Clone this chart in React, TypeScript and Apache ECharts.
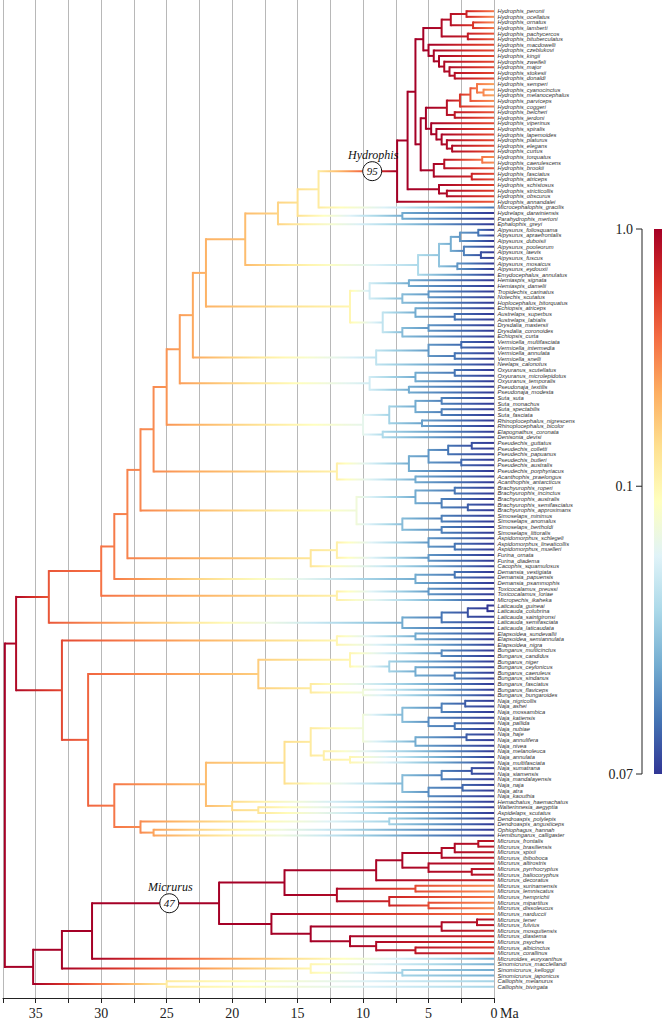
import React, { useEffect, useRef } from "react";
import * as echarts from "echarts";

// ---------- DATA ----------
// Newick-like clades: tips "Name:rate", internal nodes ")age:rate#Tag" (age in Ma)
const hydrophisA =
  "((((Hydrophis_peronii:0.35,Hydrophis_ocellatus:0.3)2.1:0.7,(Hydrophis_ornatus:0.3,Hydrophis_lamberti:0.35)1.6:0.6)3.3:0.85,(Hydrophis_pachycercos:0.45,Hydrophis_bituberculatus:0.45)2.0:0.75)4.0:0.9,(Hydrophis_macdowelli:0.5,(Hydrophis_czeblukovi:0.5,(Hydrophis_kingii:0.5,(Hydrophis_zweifeli:0.5,(Hydrophis_major:0.5,(Hydrophis_stokesii:0.5,Hydrophis_donaldi:0.5)3.0:0.85)3.4:0.9)3.8:0.9)4.2:0.95)4.6:0.95)5.0:1.0)5.4:1.0";
const hydrophisB =
  "(((((Hydrophis_semperi:0.25,(Hydrophis_cyanocinctus:0.25,Hydrophis_melanocephalus:0.25)0.8:0.3)1.3:0.35,Hydrophis_parviceps:0.3)1.8:0.45,Hydrophis_coggeri:0.35)2.6:0.6,(Hydrophis_belcheri:0.45,Hydrophis_jerdoni:0.45)3.0:0.8)3.6:0.85,(Hydrophis_viperinus:0.5,(Hydrophis_spiralis:0.5,(Hydrophis_lapemoides:0.5,(Hydrophis_platurus:0.5,(Hydrophis_elegans:0.5,Hydrophis_curtus:0.5)3.2:0.9)3.6:0.9)4.0:0.95)4.4:0.95)4.8:1.0)5.2:1.0";
const hydrophisC1 =
  "(((Hydrophis_torquatus:0.3,Hydrophis_caerulescens:0.3)0.9:0.35,Hydrophis_brookii:0.45)3.8:0.85,(Hydrophis_fasciatus:0.5,Hydrophis_atriceps:0.5)1.7:0.7)4.6:0.95";
const hydrophisC2 =
  "(Hydrophis_schistosus:0.55,(Hydrophis_stricticollis:0.55,Hydrophis_obscurus:0.55)3.6:0.9)4.2:0.95";
const hydrophis = `(((${hydrophisA},(${hydrophisB},${hydrophisC1})5.6:1.0)6.0:1.0,${hydrophisC2})6.6:1.0,Hydrophis_annandalei:0.45)7.4:1.0#Hydrophis`;
const seaHydrophiini = `(((${hydrophis},Microcephalophis_gracilis:0.075)13.4:0.12,(Hydrelaps_darwiniensis:0.07,Parahydrophis_mertoni:0.07)7.0:0.08)15.0:0.14,Ephalophis_greyi:0.07)16.5:0.16`;
const aipysurini =
  "(((((Aipysurus_foliosquama:0.07,Aipysurus_apraefrontalis:0.07)1.2:0.075,Aipysurus_duboisii:0.07)2.6:0.078,(Aipysurus_pooleorum:0.07,(Aipysurus_laevis:0.07,Aipysurus_fuscus:0.07)1.0:0.072)2.3:0.076)3.3:0.08,(Aipysurus_mosaicus:0.07,Aipysurus_eydouxii:0.07)2.8:0.078)4.2:0.083,Emydocephalus_annulatus:0.07)5.8:0.086";
const notechisGroup =
  "(((Hemiaspis_signata:0.07,Hemiaspis_damelii:0.07)6.5:0.08,((Tropidechis_carinatus:0.07,Notechis_scutatus:0.07)5.0:0.078,Hoplocephalus_bitorquatus:0.07)7.0:0.082)9.5:0.09,((Echiopsis_atriceps:0.07,(Austrelaps_superbus:0.07,Austrelaps_labialis:0.07)3.0:0.075)6.0:0.08,((Drysdalia_mastersii:0.07,Drysdalia_coronoides:0.07)5.0:0.078,Echiopsis_curta:0.07)7.0:0.082)8.5:0.088)11.0:0.1";
const vermicellaGroup =
  "(((Vermicella_multifasciata:0.07,Vermicella_intermedia:0.07)2.5:0.074,(Vermicella_annulata:0.07,Vermicella_snelli:0.07)3.0:0.075)5.0:0.078,Neelaps_calonotus:0.07)9.0:0.088";
const oxyuranusGroup =
  "(((Oxyuranus_scutellatus:0.07,Oxyuranus_microlepidotus:0.07)3.0:0.075,Oxyuranus_temporalis:0.07)6.0:0.08,(Pseudonaja_textilis:0.07,Pseudonaja_modesta:0.07)6.5:0.08)9.5:0.09";
const sutaGroup =
  "((((Suta_suta:0.07,Suta_monachus:0.07)4.0:0.076,(Suta_spectabilis:0.07,Suta_fasciata:0.07)4.0:0.076)6.0:0.08,(Rhinoplocephalus_nigrescens:0.07,Rhinoplocephalus_bicolor:0.07)5.5:0.079)8.0:0.085,(Elapognathus_coronata:0.07,Denisonia_devisi:0.07)8.5:0.086)10.0:0.093";
const pseudechisGroup =
  "(((((Pseudechis_guttatus:0.07,Pseudechis_colletti:0.07)1.7:0.072,Pseudechis_papuanus:0.07)3.5:0.075,(Pseudechis_butleri:0.07,Pseudechis_australis:0.07)2.5:0.074)5.0:0.078,Pseudechis_porphyriacus:0.07)6.5:0.08,(Acanthophis_praelongus:0.07,Acanthophis_antarcticus:0.07)6.0:0.08)12.0:0.11";
const brachyGroup =
  "(((Brachyurophis_roperi:0.07,Brachyurophis_incinctus:0.07)3.0:0.075,(Brachyurophis_australis:0.07,(Brachyurophis_semifasciatus:0.07,Brachyurophis_approximans:0.07)2.0:0.073)4.0:0.076)6.0:0.08,((Simoselaps_minimus:0.07,Simoselaps_anomalus:0.07)4.0:0.076,(Simoselaps_bertholdi:0.07,Simoselaps_littoralis:0.07)4.0:0.076)7.0:0.082)10.5:0.095";
const aspidoGroup =
  "(((Aspidomorphus_schlegeli:0.07,(Aspidomorphus_lineaticollis:0.07,Aspidomorphus_muelleri:0.07)3.0:0.075)5.0:0.078,(Furina_ornata:0.07,Furina_diadema:0.07)5.0:0.078)12.0:0.11,Cacophis_squamulosus:0.07)14.0:0.13";
const demansiaGroup =
  "((Demansia_vestigiata:0.07,Demansia_papuensis:0.07)3.0:0.075,Demansia_psammophis:0.07)6.0:0.08";
const toxicoGroup =
  "((Toxicocalamus_preussi:0.07,Toxicocalamus_loriae:0.07)5.0:0.078,Micropechis_ikaheka:0.07)12.0:0.11";
const laticauda =
  "((((Laticauda_guineai:0.07,Laticauda_colubrina:0.07)0.5:0.07,Laticauda_saintgironsi:0.07)2.0:0.072,Laticauda_semifasciata:0.07)4.0:0.075,Laticauda_laticaudata:0.07)7.0:0.08";

const marine = `(${seaHydrophiini},${aipysurini})19.0:0.2`;
const hydrophiinae =
  `((((((((((${marine},${notechisGroup})22.0:0.22,${vermicellaGroup})23.0:0.24,${oxyuranusGroup})24.0:0.26,${sutaGroup})25.0:0.28,${pseudechisGroup})26.0:0.3,${brachyGroup})27.0:0.31,${aspidoGroup})28.0:0.32,${demansiaGroup})29.0:0.34,${toxicoGroup})30.0:0.36,${laticauda})34.0:0.45`;

const elapsoidea = "((Elapsoidea_sundevallii:0.07,Elapsoidea_semiannulata:0.07)6.0:0.08,Elapsoidea_nigra:0.07)12.0:0.1";
const bungarus =
  "(((Bungarus_multicinctus:0.07,Bungarus_candidus:0.07)4.0:0.077,(Bungarus_niger:0.07,(Bungarus_ceylonicus:0.07,(Bungarus_caeruleus:0.07,Bungarus_sindanus:0.07)3.0:0.076)6.0:0.08)8.0:0.085)11.0:0.1,(Bungarus_fasciatus:0.07,(Bungarus_flaviceps:0.07,Bungarus_bungaroides:0.07)10.0:0.095)14.0:0.12)18.0:0.17";
const najaSpitters =
  "(((Naja_nigricollis:0.07,Naja_ashei:0.07)2.2:0.073,Naja_mossambica:0.07)4.0:0.076,(Naja_katiensis:0.07,(Naja_pallida:0.07,Naja_nubiae:0.07)3.0:0.075)5.0:0.077)7.0:0.082";
const najaHaje = "((Naja_haje:0.07,Naja_annulifera:0.07)2.1:0.073,Naja_nivea:0.07)6.0:0.08";
const najaForest = "(Naja_melanoleuca:0.07,(Naja_annulata:0.07,Naja_multifasciata:0.07)11.0:0.1)13.0:0.11";
const najaAsian =
  "(((Naja_sumatrana:0.07,Naja_siamensis:0.07)1.7:0.072,Naja_mandalayensis:0.07)4.0:0.076,((Naja_naja:0.07,Naja_atra:0.07)2.4:0.074,Naja_kaouthia:0.07)5.0:0.077)7.0:0.082";
const naja = `(((${najaSpitters},${najaHaje})10.0:0.095,${najaForest})14.0:0.12,${najaAsian})16.0:0.14`;
const najaGroup = `(${naja},(Hemachatus_haemachatus:0.07,(Walterinnesia_aegyptia:0.07,Aspidelaps_scutatus:0.07)18.0:0.13)20.0:0.15)22.0:0.2`;
const dendroGroup =
  "((Dendroaspis_polylepis:0.07,Dendroaspis_angusticeps:0.07)8.0:0.085,(Ophiophagus_hannah:0.07,Hemibungarus_calligaster:0.07)26.0:0.25)27.0:0.3";
const elapinae = `(${elapsoidea},(${bungarus},(${najaGroup},${dendroGroup})29.0:0.35)31.0:0.4)33.0:0.5`;

const micrurusA =
  "((((((Micrurus_frontalis:0.8,Micrurus_brasiliensis:0.8)1.2:0.85,Micrurus_spixii:0.8)3.0:0.9,Micrurus_ibiboboca:0.8)4.0:0.9,(Micrurus_altirostris:0.8,(Micrurus_pyrrhocryptus:0.8,Micrurus_baliocoryphus:0.8)1.7:0.85)5.0:0.9)7.0:0.95,Micrurus_decoratus:0.7)9.0:0.95,((Micrurus_surinamensis:0.3,Micrurus_lemniscatus:0.3)6.0:0.5,(Micrurus_hemprichii:0.35,(Micrurus_mipartitus:0.3,Micrurus_dissoleucus:0.3)5.0:0.5)8.0:0.7)12.0:0.9)16.0:1.0";
const micrurusB =
  "(Micrurus_narduccii:0.35,(((Micrurus_tener:0.8,Micrurus_fulvius:0.8)1.3:0.85,Micrurus_mosquitensis:0.7)4.0:0.9,(Micrurus_diastema:0.7,(Micrurus_psyches:0.6,(Micrurus_albicinctus:0.6,Micrurus_corallinus:0.6)6.0:0.8)9.0:0.9)11.0:0.95)14.0:1.0)17.0:1.0";
const micrurus = `(${micrurusA},${micrurusB})21.0:1.0#Micrurus`;
const calliophiinae = `(((${micrurus},Micruroides_euryxanthus:0.08)30.7:1.0,(Sinomicrurus_macclellandi:0.08,(Sinomicrurus_kelloggi:0.08,Sinomicrurus_japonicus:0.08)7.0:0.085)14.0:0.1)33.0:1.0,(Calliophis_melanurus:0.085,Calliophis_bivirgata:0.085)25.0:0.12)35.2:1.0`;

const treeNewick = `((${hydrophiinae},${elapinae})36.5:0.9,${calliophiinae})37.36:1.0`;

// clade annotations: clade tag, age of the circle on the stem (Ma), species count
const cladeTags = ["Hydrophis", "Micrurus"];
const cladeCircleAges = [9.3, 24.8];
const cladeCounts = ["95", "47"];

// axis + legend
const ageMin = 0;
const ageMax = 37.5;
const ageStep = 2.5;
const legendValues = [1.0, 0.1, 0.07];
const legendLevels = [1.0, 0.528, 0.0]; // position of each value along the colour bar (0 bottom, 1 top)
const paletteRdYlBu = [
  "#313695", "#4575b4", "#74add1", "#abd9e9", "#e0f3f8", "#ffffbf",
  "#fee090", "#fdae61", "#f46d43", "#d73027", "#a50026",
];

// ---------- helpers ----------
type TNode = {
  id: number; name?: string; tag?: string; age: number; rate: number; y: number;
  children: TNode[]; parent?: TNode;
};

function parseTree(s: string): TNode[] {
  let i = 0;
  let tip = 0;
  const list: TNode[] = [];
  const readLabel = () => {
    const st = i;
    while (i < s.length && s[i] !== "," && s[i] !== "(" && s[i] !== ")") i++;
    return s.slice(st, i).trim();
  };
  const node = (): TNode => {
    if (s[i] === "(") {
      i++;
      const ch = [node()];
      while (s[i] === ",") { i++; ch.push(node()); }
      i++;
      const lab = readLabel();
      const [main, tag] = lab.split("#");
      const [age, rate] = main.split(":").map(Number);
      const n: TNode = { id: list.length, age, rate, tag, children: ch, y: (ch[0].y + ch[ch.length - 1].y) / 2 };
      ch.forEach((c) => (c.parent = n));
      list.push(n);
      return n;
    }
    const lab = readLabel();
    const [name, rate] = lab.split(":");
    const n: TNode = { id: list.length, name, age: 0, rate: Number(rate), y: tip++, children: [] };
    list.push(n);
    return n;
  };
  node();
  return list;
}

function hexToRgb(h: string) {
  return [parseInt(h.slice(1, 3), 16), parseInt(h.slice(3, 5), 16), parseInt(h.slice(5, 7), 16)];
}
const palRgb = paletteRdYlBu.map(hexToRgb);
function colorAtT(t: number) {
  const tt = Math.max(0, Math.min(1, t)) * (palRgb.length - 1);
  const k = Math.min(palRgb.length - 2, Math.floor(tt));
  const f = tt - k;
  const a = palRgb[k], b = palRgb[k + 1];
  const c = a.map((v, j) => Math.round(v + (b[j] - v) * f));
  return `rgb(${c[0]},${c[1]},${c[2]})`;
}
function rateToT(r: number) {
  for (let k = 0; k < legendValues.length - 1; k++) {
    const hi = legendValues[k], lo = legendValues[k + 1];
    if (r >= lo || k === legendValues.length - 2) {
      const f = Math.log(r / lo) / Math.log(hi / lo);
      return legendLevels[k + 1] + (legendLevels[k] - legendLevels[k + 1]) * f;
    }
  }
  return 0;
}

export default function App() {
  const ref = useRef<HTMLDivElement>(null);
  useEffect(() => {
    document.body.style.margin = "0";
    document.body.style.background = "#fff";
    if (!ref.current) return;
    const chart = echarts.init(ref.current, undefined, { renderer: "svg" });
    const nodes = parseTree(treeNewick);
    const LW = 2;

    const branchData = nodes.map((n) => [n.age, n.y, n.id]);
    const annData = cladeTags.map((t, k) => {
      const n = nodes.find((m) => m.tag === t)!;
      return [cladeCircleAges[k], n.y, k];
    });

    const barTop = 229, barBottom = 774, barX = 654, barW = 8, axX = 642;
    const legendGraphics: any[] = [
      {
        type: "rect",
        shape: { x: barX, y: barTop, width: barW, height: barBottom - barTop },
        style: {
          fill: new echarts.graphic.LinearGradient(0, 0, 0, 1,
            paletteRdYlBu.map((c, k) => ({ offset: 1 - k / (paletteRdYlBu.length - 1), color: c })).reverse()),
        },
      },
      { type: "line", shape: { x1: axX, y1: barTop, x2: axX, y2: barBottom }, style: { stroke: "#222", lineWidth: 1 } },
    ];
    legendValues.forEach((v, k) => {
      const yy = barBottom - legendLevels[k] * (barBottom - barTop);
      legendGraphics.push({ type: "line", shape: { x1: axX - 6, y1: yy, x2: axX, y2: yy }, style: { stroke: "#222", lineWidth: 1 } });
      legendGraphics.push({
        type: "text", x: axX - 9, y: yy,
        style: { text: v === 1 ? "1.0" : String(v), fontSize: 14, fontFamily: "Liberation Serif", fill: "#222", align: "right", verticalAlign: "middle" },
      });
    });
    legendGraphics.push({
      type: "text", x: 500, y: 1013,
      style: { text: "Ma", fontSize: 14, fontFamily: "Liberation Serif", fill: "#222", align: "left", verticalAlign: "middle" },
    });

    chart.setOption({
      animation: false,
      backgroundColor: "#fff",
      grid: { left: 3, right: 169, top: 0, bottom: 26 },
      xAxis: {
        type: "value", inverse: true, min: ageMin, max: ageMax, interval: ageStep,
        axisLine: { show: true, onZero: false, lineStyle: { color: "#222", width: 1 } },
        axisTick: { show: true, length: 5, lineStyle: { color: "#222" } },
        axisLabel: {
          formatter: (v: number) => (v % 5 === 0 ? String(v) : ""),
          fontSize: 14, fontFamily: "Liberation Serif", color: "#222", margin: 8,
        },
        splitLine: { show: true, lineStyle: { color: "#b8b8b8", width: 1 } },
      },
      yAxis: { type: "value", inverse: true, min: -2, max: 176, show: false },
      graphic: legendGraphics,
      series: [
        {
          type: "custom", clip: false, z: 2,
          data: branchData,
          renderItem: (_p: any, api: any) => {
            const n = nodes[api.value(2)];
            const [x, y] = api.coord([n.age, n.y]);
            const els: any[] = [];
            const tc = rateToT(n.rate);
            if (n.parent) {
              const [px] = api.coord([n.parent.age, n.y]);
              const tp = rateToT(n.parent.rate);
              if (Math.abs(x - px) > 0.1) {
                const stops = [];
                for (let k = 0; k <= 8; k++) {
                  const f = k / 8;
                  stops.push({ offset: f, color: colorAtT(tp + (tc - tp) * f) });
                }
                els.push({
                  type: "line",
                  shape: { x1: px, y1: y, x2: x, y2: y },
                  style: { stroke: new echarts.graphic.LinearGradient(px, 0, x, 0, stops, true), lineWidth: LW, lineCap: "butt" },
                });
              }
            }
            if (n.children.length) {
              const [, y1] = api.coord([n.age, n.children[0].y]);
              const [, y2] = api.coord([n.age, n.children[n.children.length - 1].y]);
              els.push({
                type: "line",
                shape: { x1: x, y1: y1 - LW / 2, x2: x, y2: y2 + LW / 2 },
                style: { stroke: colorAtT(tc), lineWidth: LW, lineCap: "butt" },
              });
            } else {
              els.push({
                type: "text", x: x + 3.5, y,
                style: {
                  text: n.name, fontSize: 5.8, fontStyle: "italic", fontFamily: "Liberation Sans",
                  fill: "#333", align: "left", verticalAlign: "middle",
                },
              });
            }
            return { type: "group", children: els };
          },
        },
        {
          type: "custom", clip: false, z: 5,
          data: annData,
          renderItem: (_p: any, api: any) => {
            const k = api.value(2);
            const [x, y] = api.coord([api.value(0), api.value(1)]);
            return {
              type: "group",
              children: [
                { type: "circle", shape: { cx: x, cy: y, r: 9.5 }, style: { fill: "#fff", stroke: "#111", lineWidth: 1 } },
                {
                  type: "text", x, y,
                  style: { text: cladeCounts[k], fontSize: 11, fontStyle: "italic", fontFamily: "Liberation Serif", fill: "#111", align: "center", verticalAlign: "middle" },
                },
                {
                  type: "text", x: x + 1, y: y - 16,
                  style: { text: cladeTags[k], fontSize: 12, fontStyle: "italic", fontFamily: "Liberation Serif", fill: "#111", align: "center", verticalAlign: "middle" },
                },
              ],
            };
          },
        },
      ],
    });
    return () => chart.dispose();
  }, []);
  return <div ref={ref} style={{ width: 663, height: 1024 }} />;
}
